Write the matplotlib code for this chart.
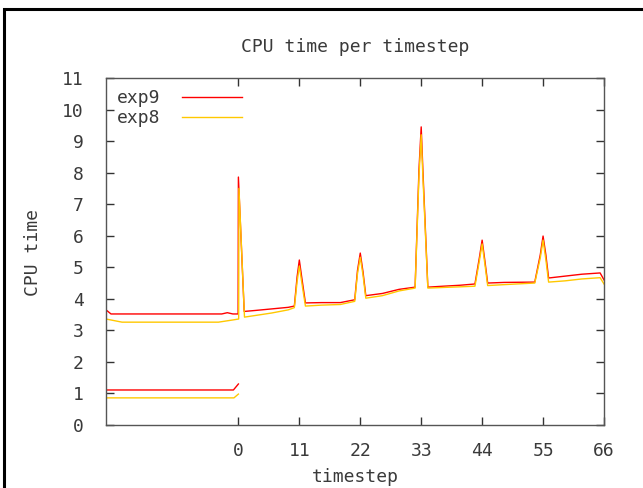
import matplotlib
matplotlib.use("Agg")
import matplotlib.pyplot as plt
from matplotlib.patches import Rectangle
import numpy as np

# ---- data ----
exp9_x = [-23.9, -23.0, -20.0, -5.0, -3.0, -2.0, -1.0, -0.05, 0.0, 1.05, 3.0, 6.0, 9.0, 10.1,
          10.6, 11.0, 11.5, 12.1, 15.0, 18.4, 21.0, 21.5, 22.0, 22.5, 23.0, 26.0, 29.0, 31.9,
          32.6, 33.0, 33.3, 34.2, 37.0, 40.0, 42.7, 43.5, 44.0, 44.5, 45.0, 48.0, 53.5, 54.5,
          55.0, 55.5, 56.0, 59.0, 62.0, 65.3, 66.0]
exp9_y = [3.65, 3.52, 3.52, 3.52, 3.52, 3.56, 3.52, 3.52, 7.86, 3.60, 3.63, 3.68, 3.73, 3.77,
          4.70, 5.23, 4.60, 3.87, 3.88, 3.88, 3.97, 4.90, 5.45, 4.85, 4.10, 4.17, 4.30, 4.37,
          8.10, 9.45, 8.10, 4.37, 4.40, 4.43, 4.47, 5.30, 5.86, 5.20, 4.50, 4.52, 4.53, 5.40,
          5.99, 5.40, 4.66, 4.72, 4.78, 4.82, 4.60]

exp8_x = [-23.9, -21.0, -10.0, -3.6, -1.0, 0.05, 0.1, 1.1, 3.0, 6.0, 9.0, 10.1,
          10.6, 11.0, 11.5, 12.1, 15.0, 18.4, 21.0, 21.5, 22.0, 22.5, 23.0, 26.0, 29.0, 31.9,
          32.6, 33.0, 33.3, 34.2, 37.0, 40.0, 42.7, 43.5, 44.0, 44.5, 45.0, 48.0, 53.5, 54.5,
          55.0, 55.5, 56.0, 59.0, 62.0, 65.3, 66.0]
exp8_y = [3.36, 3.26, 3.26, 3.26, 3.33, 3.36, 7.50, 3.42, 3.47, 3.55, 3.65, 3.72,
          4.55, 5.04, 4.45, 3.77, 3.80, 3.82, 3.92, 4.80, 5.32, 4.75, 4.02, 4.10, 4.25, 4.34,
          7.90, 9.20, 7.90, 4.34, 4.36, 4.38, 4.40, 5.20, 5.74, 5.10, 4.42, 4.45, 4.50, 5.30,
          5.86, 5.25, 4.53, 4.57, 4.63, 4.67, 4.47]

exp9_low_x = [-23.9, -0.9, 0.0]
exp9_low_y = [1.11, 1.11, 1.30]
exp8_low_x = [-23.9, -0.8, 0.0]
exp8_low_y = [0.86, 0.86, 0.98]

x_ticks = [0, 11, 22, 33, 44, 55, 66]
y_ticks = list(range(0, 12))

title = "CPU time per timestep"
x_label = "timestep"
y_label = "CPU time"
series_names = ["exp9", "exp8"]
colors = ["#ff0000", "#ffc800"]

# ---- figure ----
W, H = 643, 488
plt.rcParams['font.family'] = ['DejaVu Sans Mono']
fs = 13
tc = "#3a3a3a"
fig = plt.figure(figsize=(W / 100, H / 100), dpi=100)
fig.patch.set_facecolor("white")

L, R, T, B = 106, 604, 78, 425
ax = fig.add_axes([L / W, 1 - B / H, (R - L) / W, (B - T) / H])

ax.plot(exp9_x, exp9_y, color=colors[0], lw=1.0, label=series_names[0])
ax.plot(exp8_x, exp8_y, color=colors[1], lw=1.0, label=series_names[1])
ax.plot(exp9_low_x, exp9_low_y, color=colors[0], lw=1.0)
ax.plot(exp8_low_x, exp8_low_y, color=colors[1], lw=1.0)

ax.set_xlim(-23.9, 66)
ax.set_ylim(0, 11)
ax.set_xticks(x_ticks)
ax.set_yticks(y_ticks)
ax.tick_params(direction="in", length=6, width=1, color="#333333",
               top=True, right=True, labelsize=fs, labelcolor=tc)
ax.tick_params(axis="x", pad=12)
ax.tick_params(axis="y", pad=16)
for s in ax.spines.values():
    s.set_color("#555555")
    s.set_linewidth(1.0)

fig.text((L + R) / 2 / W, 1 - 47 / H, title, ha="center", va="center",
         fontsize=fs, color=tc)
fig.text((L + R) / 2 / W, 1 - 477 / H, x_label, ha="center", va="center",
         fontsize=fs, color=tc)
fig.text(33 / W, 1 - 252 / H, y_label, ha="center", va="center", rotation=90,
         fontsize=fs, color=tc)

leg = ax.legend(loc="upper left", bbox_to_anchor=(117 / W, 1 - 89 / H),
                bbox_transform=fig.transFigure, frameon=False, markerfirst=False,
                fontsize=fs, handlelength=3.3, handletextpad=1.2,
                borderpad=0, borderaxespad=0, labelspacing=0.12)
for t in leg.get_texts():
    t.set_color(tc)

# outer page border (top and left visible)
fig.add_artist(Rectangle((4 / W, -0.5), 2.0, 1.5 - 9 / H, transform=fig.transFigure,
                         fill=False, edgecolor="black", linewidth=2.2))

fig.savefig("out.png", dpi=100)
